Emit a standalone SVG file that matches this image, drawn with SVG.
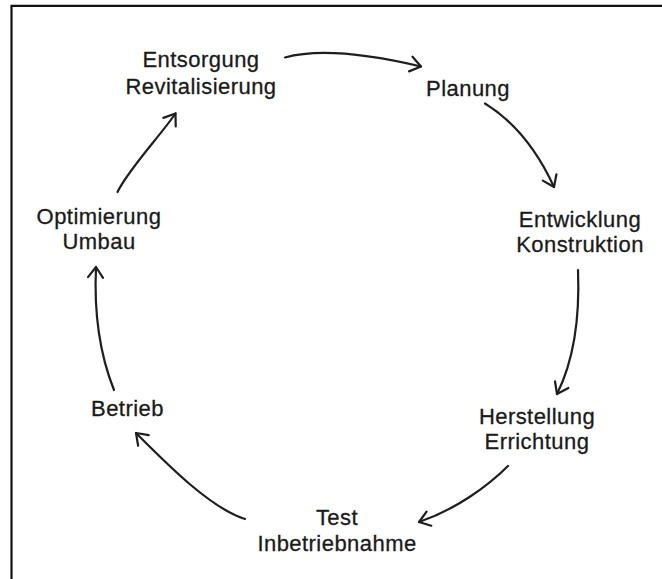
<svg xmlns="http://www.w3.org/2000/svg" width="662" height="579" viewBox="0 0 662 579">
<style>
  .lbl { font-family: "Liberation Sans", Arial, sans-serif; font-size: 22px; fill: #1a1a1a; stroke: #1a1a1a; stroke-width: 0.3; letter-spacing: 0.45px; text-anchor: middle; }
  .arr { fill: none; stroke: #1e1e1e; stroke-width: 2.2; stroke-linecap: round; marker-end: url(#ah); }
  .frame { stroke: #111; stroke-width: 2.2; fill: none; }
</style>
<defs>
  <marker id="ah" viewBox="-15 -10 17 20" refX="0" refY="0" markerWidth="17" markerHeight="20" markerUnits="userSpaceOnUse" orient="auto">
    <path d="M-10.5,-7.5 L0,0 L-10.5,7.5" fill="none" stroke="#1e1e1e" stroke-width="2.2" stroke-linecap="round" stroke-linejoin="round"/>
  </marker>
</defs>
<rect x="0" y="0" width="662" height="579" fill="#fff"/>
<path class="frame" d="M11.5,579 L11.5,5.8 L662,5.8"/>
<g id="connectors">
  <path class="arr" d="M285,57.5 Q330,45 421,66.5"/>
  <path class="arr" d="M485,103.5 C515,122 537,150 554,187"/>
  <path class="arr" d="M578,270 C580,320 574,360 557,394"/>
  <path class="arr" d="M508,466 C488,486 455,510 419,522"/>
  <path class="arr" d="M245,519 C210,508 166,463 136,433"/>
  <path class="arr" d="M114,390 C98,350 94,310 96,267"/>
  <path class="arr" d="M117.5,192 C128,170 160,136 175.5,113.5"/>
</g>
<g id="entsorgung"><text class="lbl" x="201" y="66.5">Entsorgung</text><text class="lbl" x="201" y="93.5">Revitalisierung</text></g>
<g id="planung"><text class="lbl" x="468" y="95.5">Planung</text></g>
<g id="entwicklung"><text class="lbl" x="580" y="226.5">Entwicklung</text><text class="lbl" x="580" y="251.5">Konstruktion</text></g>
<g id="herstellung"><text class="lbl" x="537" y="424">Herstellung</text><text class="lbl" x="537" y="449">Errichtung</text></g>
<g id="test"><text class="lbl" x="337" y="525">Test</text><text class="lbl" x="337" y="551">Inbetriebnahme</text></g>
<g id="betrieb"><text class="lbl" x="127.5" y="415.5">Betrieb</text></g>
<g id="optimierung"><text class="lbl" x="99" y="223.5">Optimierung</text><text class="lbl" x="99" y="249">Umbau</text></g>
</svg>
